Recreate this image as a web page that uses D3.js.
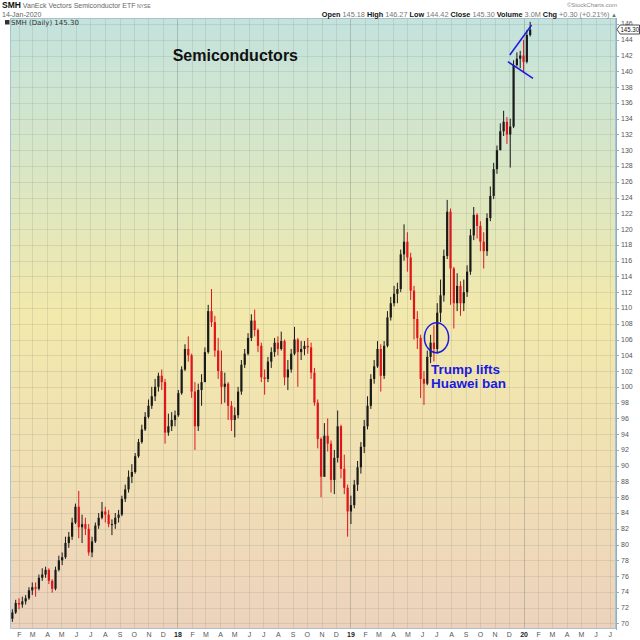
<!DOCTYPE html>
<html>
<head>
<meta charset="utf-8">
<title>SMH Semiconductors</title>
<style>
body { margin: 0; background: #fff; }
svg { display: block; font-family: "Liberation Sans", Arial, sans-serif; }
</style>
</head>
<body>
<div id="chart"></div>
<script src="https://cdn.jsdelivr.net/npm/d3@7"></script>
<script>
// SMH weekly candles (13-Jan-2017 .. 14-Jan-2020)
// open of each week = previous week's close
var firstOpen = 70.0;
var weekClose = [
  70.6, 71.4, 72.6, 72.4, 72.8, 73.2, 74.2, 74.6, 74.4, 75.8,
  76.2, 76.8, 75.4, 74.4, 76.8, 78.0, 78.4, 80.2, 81.0, 82.8,
  84.8, 82.2, 82.6, 82.0, 79.0, 80.4, 82.4, 83.4, 84.2, 83.8,
  82.6, 82.6, 83.4, 83.8, 85.8, 87.0, 88.6, 89.2, 91.2, 93.0,
  94.6, 96.2, 97.6, 98.8, 100.0, 101.4, 100.6, 94.2, 95.0, 95.8,
  96.4, 99.2, 102.2, 104.8, 104.0, 99.4, 95.0, 99.6, 100.6, 104.4,
  109.6, 108.2, 104.6, 102.0, 100.0, 100.4, 97.6, 95.8, 96.4, 99.4,
  102.8, 104.2, 106.2, 108.4, 107.2, 105.2, 101.2, 101.0, 103.2, 104.4,
  105.6, 104.8, 105.8, 101.2, 102.2, 104.2, 106.0, 104.4, 104.8, 105.2,
  105.0, 101.8, 98.0, 93.4, 88.6, 93.8, 92.8, 88.2, 91.0, 95.0,
  89.6, 87.2, 84.2, 85.0, 87.6, 89.8, 92.4, 95.0, 97.6, 101.0,
  102.6, 104.8, 101.4, 105.2, 108.8, 110.6, 111.8, 112.4, 116.8, 118.4,
  116.4, 112.2, 108.6, 106.2, 101.0, 100.4, 103.8, 105.6, 104.8, 109.4,
  111.6, 116.6, 122.2, 115.0, 110.6, 112.8, 110.6, 112.0, 114.6, 119.2,
  121.8, 120.4, 118.4, 117.2, 121.4, 124.2, 127.6, 130.0, 132.4, 133.6,
  132.0, 133.0, 140.8, 141.6, 142.0, 141.2, 144.6, 145.3
];
var weekHigh = [
  71.0, 71.8, 73.0, 73.2, 73.4, 73.6, 74.6, 75.2, 75.2, 76.2,
  77.0, 77.2, 77.0, 75.6, 77.2, 78.6, 79.0, 81.0, 81.6, 83.4,
  85.2, 86.8, 83.8, 83.4, 82.6, 81.0, 82.8, 84.0, 85.4, 84.8,
  84.4, 83.2, 84.0, 84.4, 86.2, 87.6, 89.4, 90.2, 91.6, 93.4,
  95.2, 96.8, 98.4, 100.0, 101.0, 101.8, 102.2, 101.0, 96.6, 96.8,
  97.0, 99.6, 102.6, 105.4, 106.4, 104.2, 100.6, 100.4, 101.6, 105.0,
  110.4, 112.4, 109.0, 106.2, 104.6, 101.8, 100.6, 98.2, 97.4, 100.0,
  103.4, 104.8, 106.8, 109.2, 109.8, 107.4, 105.6, 102.2, 103.8, 105.0,
  106.2, 106.4, 107.0, 106.0, 103.4, 104.8, 107.6, 106.2, 105.8, 105.8,
  106.2, 105.6, 102.4, 98.4, 93.6, 95.4, 96.0, 93.2, 92.0, 97.0,
  95.2, 91.4, 87.6, 86.2, 88.2, 90.6, 93.0, 95.8, 98.8, 101.6,
  103.4, 105.8, 105.4, 105.8, 109.6, 111.4, 112.8, 113.2, 117.4, 120.6,
  119.6, 117.0, 112.8, 109.6, 106.6, 102.0, 104.6, 106.6, 107.8, 110.6,
  113.6, 117.4, 123.7, 122.6, 115.2, 114.4, 113.4, 113.6, 115.4, 120.0,
  122.8, 122.0, 121.0, 119.6, 122.0, 125.4, 128.4, 130.6, 133.4, 135.0,
  134.2, 134.0, 141.4, 142.4, 142.6, 144.0, 145.2, 146.27
];
var weekLow = [
  69.8, 70.2, 71.2, 71.8, 72.0, 72.4, 73.0, 73.6, 73.4, 74.2,
  75.4, 75.8, 75.0, 73.9, 74.2, 76.6, 77.4, 78.2, 79.6, 80.6,
  82.6, 80.8, 80.2, 81.2, 78.6, 78.4, 80.2, 82.0, 83.2, 82.8,
  82.2, 81.2, 82.0, 82.8, 83.6, 85.4, 86.6, 87.8, 89.0, 91.0,
  92.8, 94.4, 96.0, 97.2, 98.2, 99.4, 99.6, 92.8, 93.8, 94.4,
  95.0, 96.2, 99.0, 102.0, 103.2, 98.6, 92.0, 94.4, 97.6, 100.6,
  104.2, 107.6, 103.8, 101.0, 97.8, 98.0, 95.8, 94.4, 93.6, 96.0,
  99.0, 102.4, 104.0, 105.8, 106.4, 104.4, 100.6, 99.0, 100.6, 102.4,
  103.8, 104.0, 104.6, 100.2, 99.6, 101.8, 104.0, 100.0, 103.4, 104.0,
  104.2, 101.0, 97.6, 92.2, 86.0, 88.6, 91.8, 86.6, 86.4, 90.4,
  88.4, 86.4, 81.0, 82.6, 84.6, 86.8, 89.0, 91.6, 94.6, 97.2,
  100.4, 102.4, 99.4, 101.0, 105.0, 108.4, 110.2, 110.6, 112.0, 116.0,
  114.6, 111.0, 106.0, 104.8, 98.6, 97.7, 100.2, 103.0, 103.2, 104.2,
  108.2, 110.8, 116.2, 110.4, 107.4, 109.6, 109.0, 109.6, 111.4, 114.2,
  118.6, 118.8, 117.2, 115.0, 116.6, 121.0, 123.8, 127.0, 130.0, 131.8,
  130.8, 127.8, 132.8, 140.6, 140.4, 139.8, 141.0, 144.42
];

var yTicks = [70, 72, 74, 76, 78, 80, 82, 84, 86, 88, 90, 92, 94, 96, 98, 100,
  102, 104, 106, 108, 110, 112, 114, 116, 118, 120, 122, 124, 126, 128, 130,
  132, 134, 136, 138, 140, 142, 144, 146];
var monthLabels = ['F','M','A','M','J','J','A','S','O','N','D',
  '18','F','M','A','M','J','J','A','S','O','N','D',
  '19','F','M','A','M','J','J','A','S','O','N','D',
  '20','F','M','A','M','J','J'];

var lastPrice = 145.30;
var quote = [['Open', '145.18'], ['High', '146.27'], ['Low', '144.42'],
  ['Close', '145.30'], ['Volume', '3.0M'], ['Chg', '+0.30 (+0.21%)']];

var W = 640, H = 640;
var pL = 10, pR = 616, pT = 18, pB = 629;

var svg = d3.select('#chart').append('svg')
  .attr('width', W).attr('height', H);

var x = d3.scaleTime()
  .domain([new Date(2017, 0, 13), new Date(2020, 6, 14)])
  .range([pL, pR]);
var y = d3.scaleLinear()
  .domain([69.3, 146.76])
  .range([pB, pT]);

// background gradient
var defs = svg.append('defs');
var grad = defs.append('linearGradient').attr('id', 'bg')
  .attr('x1', 0).attr('y1', 0).attr('x2', 0).attr('y2', 1);
grad.append('stop').attr('offset', '0%').attr('stop-color', '#c3e3de');
grad.append('stop').attr('offset', '22%').attr('stop-color', '#d6e6c8');
grad.append('stop').attr('offset', '48%').attr('stop-color', '#f2e9ac');
grad.append('stop').attr('offset', '75%').attr('stop-color', '#f0dfb4');
grad.append('stop').attr('offset', '100%').attr('stop-color', '#ecd2bd');
defs.append('clipPath').attr('id', 'clip').append('rect')
  .attr('x', pL).attr('y', pT).attr('width', pR - pL).attr('height', pB - pT);

svg.append('rect')
  .attr('x', pL).attr('y', pT)
  .attr('width', pR - pL).attr('height', pB - pT)
  .attr('fill', 'url(#bg)');

// grid
var months = d3.timeMonth.range(new Date(2017, 1, 1), new Date(2020, 6, 2));
var grid = svg.append('g');
grid.selectAll('.hg')
  .data(yTicks)
  .enter().append('line')
  .attr('class', 'hg')
  .attr('x1', pL).attr('x2', pR)
  .attr('y1', function(d){ return Math.round(y(d)) + 0.5; })
  .attr('y2', function(d){ return Math.round(y(d)) + 0.5; })
  .style('stroke', 'rgba(120,120,100,0.16)')
  .style('stroke-width', 1);
grid.selectAll('.vg')
  .data(months)
  .enter().append('line')
  .attr('class', 'vg')
  .attr('x1', function(d){ return Math.round(x(d)) + 0.5; })
  .attr('x2', function(d){ return Math.round(x(d)) + 0.5; })
  .attr('y1', pT).attr('y2', pB)
  .style('stroke', function(d){
    return d.getMonth() === 0 ? 'rgba(100,110,100,0.32)' : 'rgba(120,120,100,0.16)';
  })
  .style('stroke-width', 1);

// candles
var weeks = d3.timeWednesday.range(new Date(2017, 0, 11), new Date(2020, 0, 16));
var bars = weeks.map(function(d, i){
  return {
    date: d,
    open: i === 0 ? firstOpen : weekClose[i - 1],
    high: weekHigh[i],
    low: weekLow[i],
    close: weekClose[i]
  };
});
function barColor(d){ return d.close >= d.open ? '#1a1a1a' : '#e0151b'; }

var cg = svg.append('g').attr('clip-path', 'url(#clip)');
cg.selectAll('.wick')
  .data(bars)
  .enter().append('line')
  .attr('class', 'wick')
  .attr('x1', function(d){ return x(d.date); })
  .attr('x2', function(d){ return x(d.date); })
  .attr('y1', function(d){ return y(d.high); })
  .attr('y2', function(d){ return y(d.low); })
  .style('stroke', barColor)
  .style('stroke-width', 1);
cg.selectAll('.body')
  .data(bars)
  .enter().append('rect')
  .attr('class', 'body')
  .attr('x', function(d){ return x(d.date) - 1.1; })
  .attr('width', 2.2)
  .attr('y', function(d){ return y(Math.max(d.open, d.close)); })
  .attr('height', function(d){ return Math.max(1, Math.abs(y(d.open) - y(d.close))); })
  .style('fill', barColor);

// frame + right axis
svg.append('rect')
  .attr('x', pL + 0.5).attr('y', pT + 0.5)
  .attr('width', pR - pL - 1).attr('height', pB - pT - 1)
  .attr('fill', 'none').style('stroke', '#a8c2d0');
svg.append('line')
  .attr('x1', pR + 0.5).attr('x2', pR + 0.5)
  .attr('y1', pT).attr('y2', pB + 1)
  .style('stroke', '#8fb0c4');

var ax = svg.append('g');
ax.selectAll('.tk')
  .data(yTicks)
  .enter().append('line')
  .attr('class', 'tk')
  .attr('x1', pR).attr('x2', pR + 3)
  .attr('y1', function(d){ return Math.round(y(d)) + 0.5; })
  .attr('y2', function(d){ return Math.round(y(d)) + 0.5; })
  .style('stroke', '#8fb0c4');
ax.selectAll('.yl')
  .data(yTicks)
  .enter().append('text')
  .attr('class', 'yl')
  .attr('x', pR + 5)
  .attr('y', function(d){ return y(d); })
  .attr('dy', '0.35em')
  .style('font-size', '7px')
  .style('fill', '#555')
  .text(function(d){ return d; });

// last price flag
var yp = y(lastPrice);
svg.append('path')
  .attr('d', 'M' + (pR + 1) + ',' + yp + 'L' + (pR + 4) + ',' + (yp - 4.5) +
    'L639.5,' + (yp - 4.5) + 'L639.5,' + (yp + 4.5) + 'L' + (pR + 4) + ',' + (yp + 4.5) + 'Z')
  .attr('fill', '#fff').style('stroke', '#222').style('stroke-width', 0.8);
svg.append('text')
  .attr('x', pR + 4.5).attr('y', yp).attr('dy', '0.35em')
  .attr('textLength', 18.5).attr('lengthAdjust', 'spacingAndGlyphs')
  .style('font-size', '6.5px').style('fill', '#111')
  .text(lastPrice.toFixed(2));

// month labels
svg.selectAll('.ml')
  .data(months)
  .enter().append('text')
  .attr('class', 'ml')
  .attr('x', function(d){ return x(d) + 0.5; })
  .attr('y', 637)
  .attr('text-anchor', 'middle')
  .style('font-size', '7px')
  .style('font-weight', function(d, i){ return monthLabels[i].length > 1 ? 'bold' : 'normal'; })
  .style('fill', function(d, i){ return monthLabels[i].length > 1 ? '#222' : '#555'; })
  .text(function(d, i){ return monthLabels[i]; });

// header
var h1 = svg.append('text').attr('x', 2).attr('y', 8);
h1.append('tspan').style('font-size', '8.5px').style('font-weight', 'bold').style('fill', '#111').text('SMH');
h1.append('tspan').style('font-size', '7px').style('fill', '#666').text(' VanEck Vectors Semiconductor ETF');
h1.append('tspan').style('font-size', '5px').style('fill', '#666').text(' NYSE');
svg.append('text').attr('x', 2).attr('y', 16.5)
  .style('font-size', '7px').style('fill', '#666').text('14-Jan-2020');
svg.append('text').attr('x', 617).attr('y', 6.5).attr('text-anchor', 'end')
  .style('font-size', '6px').style('fill', '#888').text('\u00a9StockCharts.com');

var qt = svg.append('text').attr('x', 617).attr('y', 16.5).attr('text-anchor', 'end')
  .style('font-size', '7.3px');
quote.forEach(function(q, i){
  qt.append('tspan').style('font-weight', 'bold').style('fill', '#111').text((i ? ' ' : '') + q[0] + ' ');
  qt.append('tspan').style('fill', '#777').text(q[1]);
});
qt.append('tspan').style('fill', '#4a8a4a').style('font-size', '6px').text(' \u25b2');

// legend inside plot
svg.append('rect').attr('x', 5).attr('y', 20).attr('width', 4.5).attr('height', 4.5).attr('fill', '#333');
svg.append('text').attr('x', 11).attr('y', 25.2)
  .style('font-family', '"DejaVu Sans", sans-serif')
  .style('font-size', '7px').style('fill', '#333')
  .text('SMH (Daily) 145.30');

// annotations
svg.append('text')
  .attr('x', x(new Date(2017, 11, 22)))
  .attr('y', y(141.3))
  .style('font-size', '16px').style('font-weight', 'bold').style('fill', '#111')
  .text('Semiconductors');

var blue = '#1a1ae0';
var ell = { d0: new Date(2019, 5, 6), d1: new Date(2019, 6, 27), p0: 104.33, p1: 108.13 };
svg.append('ellipse')
  .attr('cx', (x(ell.d0) + x(ell.d1)) / 2)
  .attr('cy', (y(ell.p0) + y(ell.p1)) / 2)
  .attr('rx', (x(ell.d1) - x(ell.d0)) / 2)
  .attr('ry', (y(ell.p0) - y(ell.p1)) / 2)
  .attr('fill', 'none').style('stroke', blue).style('stroke-width', 1.5);

var note = svg.append('text')
  .attr('x', x(new Date(2019, 5, 20)))
  .attr('y', y(101.63))
  .style('font-size', '13.5px').style('font-weight', 'bold').style('fill', blue);
note.append('tspan').text('Trump lifts');
note.append('tspan').attr('x', x(new Date(2019, 5, 20))).attr('dy', 14.4).text('Huawei ban');

var trend = [
  [[new Date(2019, 11, 3), 142.07], [new Date(2020, 0, 18), 145.87]],
  [[new Date(2019, 10, 29), 141.22], [new Date(2020, 0, 21), 139.11]]
];
svg.selectAll('.trend')
  .data(trend)
  .enter().append('line')
  .attr('class', 'trend')
  .attr('x1', function(d){ return x(d[0][0]); })
  .attr('y1', function(d){ return y(d[0][1]); })
  .attr('x2', function(d){ return x(d[1][0]); })
  .attr('y2', function(d){ return y(d[1][1]); })
  .style('stroke', blue).style('stroke-width', 1.5);
</script>
</body>
</html>
